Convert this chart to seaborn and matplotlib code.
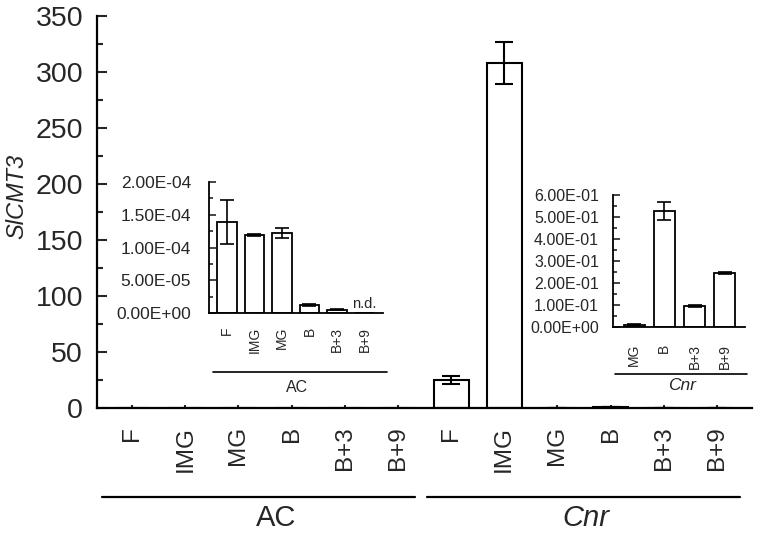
import numpy as np
import pandas as pd
import matplotlib
matplotlib.use("Agg")
import matplotlib.pyplot as plt
import seaborn as sns
from matplotlib.lines import Line2D
from matplotlib.ticker import MultipleLocator, FuncFormatter

# ---- data ----
stages = ["F", "IMG", "MG", "B", "B+3", "B+9"]
groups = ["AC", "Cnr"]

ac_vals = [1.39e-4, 1.19e-4, 1.22e-4, 0.12e-4, 0.05e-4, 0.0]
ac_errs = [0.33e-4, 0.02e-4, 0.08e-4, 0.01e-4, 0.005e-4, np.nan]

cnr_vals = [25.0, 308.0, 0.01, 0.527, 0.095, 0.245]
cnr_errs = [4.0, 18.5, 0.003, 0.042, 0.004, 0.004]

cnr_inset_stages = ["MG", "B", "B+3", "B+9"]
cnr_inset_vals = [0.01, 0.527, 0.095, 0.245]
cnr_inset_errs = [0.003, 0.042, 0.004, 0.004]

sns.set_style("ticks")
plt.rcParams["font.family"] = ["Liberation Sans", "DejaVu Sans"]

W, H = 759, 535
fig = plt.figure(figsize=(W / 100, H / 100), dpi=100)

def fx(x):
    return x / W

def fy(y):
    return 1 - y / H

def fig_rect(x0, x1, y0, y1):
    # pixel box (left, right, top, bottom) -> figure rect
    return [fx(x0), fy(y1), (x1 - x0) / W, (y1 - y0) / H]


def bars(ax, labels, vals, errs, width, lw, capsize, elw):
    d = pd.DataFrame({"lab": labels, "val": vals})
    sns.barplot(data=d, x="lab", y="val", ax=ax, width=width, color="white",
                edgecolor="black", linewidth=lw, errorbar=None, saturation=1)
    ax.errorbar(np.arange(len(vals)), vals, yerr=errs, fmt="none", ecolor="black",
                elinewidth=elw, capsize=capsize, capthick=elw)


def style_axes(ax, lw):
    sns.despine(ax=ax)
    for s in ["left", "bottom"]:
        ax.spines[s].set_linewidth(lw)
        ax.spines[s].set_color("black")
    ax.set_xlabel("")
    ax.set_ylabel("")


# ---- main axes ----
ax = fig.add_axes(fig_rect(97, 752, 16, 408))
main_labels = [f"{g}-{s}" for g in groups for s in stages]
bars(ax, main_labels, ac_vals[:5] + [0.0] + cnr_vals,
     [np.nan] * 6 + cnr_errs, 0.66, 1.5, 6.5, 1.5)
style_axes(ax, 1.6)
ax.set_xlim(-0.66, 11.66)
ax.set_ylim(0, 350)
ax.yaxis.set_major_locator(MultipleLocator(50))
ax.yaxis.set_minor_locator(MultipleLocator(25))
ax.set_xticks(range(12))
ax.set_xticklabels(stages + stages, rotation=90, fontsize=17.5, va="top")
ax.tick_params(axis="y", which="major", direction="in", length=7, width=1.5,
               labelsize=20.5, pad=10)
ax.tick_params(axis="y", which="minor", direction="in", length=4, width=1.5)
ax.tick_params(axis="x", direction="in", length=2, width=1.5, pad=13)
ax.set_ylabel("SlCMT3", fontsize=17, style="italic")
ax.yaxis.set_label_coords(-0.105, 0.54)

# group lines and labels under the main axis
for (x0, x1, xc, txt, st) in [(102, 415, 276, "AC", "normal"),
                              (427, 740, 586, "Cnr", "italic")]:
    fig.add_artist(Line2D([fx(x0), fx(x1)], [fy(497), fy(497)], color="black",
                          lw=1.6, transform=fig.transFigure))
    fig.text(fx(xc), fy(518), txt, fontsize=21, style=st, ha="center", va="center")

# ---- inset AC ----
sci = FuncFormatter(lambda v, p: f"{v:.2E}")
ax1 = fig.add_axes(fig_rect(209, 383, 182, 313))
bars(ax1, stages, ac_vals, ac_errs, 0.72, 1.3, 5, 1.2)
style_axes(ax1, 1.3)
ax1.set_xlim(-0.65, 5.67)
ax1.set_ylim(0, 2e-4)
ax1.yaxis.set_major_locator(MultipleLocator(5e-5))
ax1.yaxis.set_minor_locator(MultipleLocator(2.5e-5))
ax1.yaxis.set_major_formatter(sci)
ax1.set_xticks(range(6))
ax1.set_xticklabels(stages, rotation=90, fontsize=10, va="top")
ax1.tick_params(axis="y", which="major", direction="in", length=5, width=1.2,
                labelsize=12.5, pad=13)
ax1.tick_params(axis="y", which="minor", direction="in", length=3, width=1.2)
ax1.tick_params(axis="x", length=0, pad=10)
ax1.text(5, 0.03e-4, "n.d.", fontsize=10.5, ha="center", va="bottom")
fig.add_artist(Line2D([fx(213), fx(387)], [fy(372), fy(372)], color="black",
                      lw=1.2, transform=fig.transFigure))
fig.text(fx(297), fy(388), "AC", fontsize=11.5, ha="center", va="center")

# ---- inset Cnr ----
ax2 = fig.add_axes(fig_rect(613, 745, 195, 327))
bars(ax2, cnr_inset_stages, cnr_inset_vals, cnr_inset_errs, 0.7, 1.3, 5, 1.2)
style_axes(ax2, 1.3)
ax2.set_xlim(-0.7, 3.67)
ax2.set_ylim(0, 0.6)
ax2.yaxis.set_major_locator(MultipleLocator(0.1))
ax2.yaxis.set_minor_locator(MultipleLocator(0.05))
ax2.yaxis.set_major_formatter(sci)
ax2.set_xticks(range(4))
ax2.set_xticklabels(cnr_inset_stages, rotation=90, fontsize=10, va="top")
ax2.tick_params(axis="y", which="major", direction="in", length=5, width=1.2,
                labelsize=11.5, pad=10)
ax2.tick_params(axis="y", which="minor", direction="in", length=3, width=1.2)
ax2.tick_params(axis="x", length=0, pad=12)
fig.add_artist(Line2D([fx(615), fx(747)], [fy(374), fy(374)], color="black",
                      lw=1.2, transform=fig.transFigure))
fig.text(fx(682), fy(385), "Cnr", fontsize=12.5, style="italic", ha="center", va="center")

fig.savefig("out.png", dpi=100)
